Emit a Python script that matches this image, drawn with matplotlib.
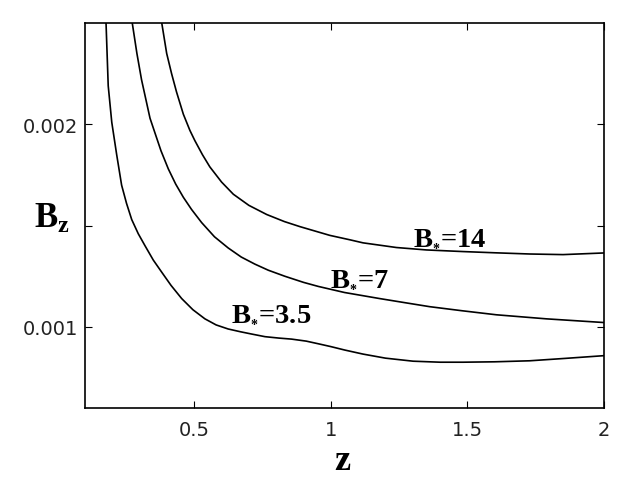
import matplotlib
matplotlib.use("Agg")
import matplotlib.pyplot as plt

plt.rcParams['mathtext.fontset'] = 'custom'
plt.rcParams['mathtext.rm'] = 'Liberation Serif:bold'
plt.rcParams['mathtext.bf'] = 'Liberation Serif:bold'
plt.rcParams['mathtext.it'] = 'Liberation Serif:bold'

# Curve B*=3.5
z_35 = [0.175, 0.177, 0.185, 0.198, 0.216, 0.234, 0.252, 0.271, 0.295, 0.32, 0.35, 0.381, 0.415, 0.454,
        0.495, 0.539, 0.58, 0.624, 0.67, 0.71, 0.759, 0.81, 0.856, 0.91, 0.954, 1.0, 1.051, 1.118, 1.2,
        1.301, 1.4, 1.484, 1.6, 1.728, 1.86, 1.997]
b_35 = [0.0026, 0.0025, 0.00219, 0.00201, 0.00185, 0.0017, 0.00161, 0.00153, 0.00146, 0.0014, 0.00133, 0.00127,
        0.001205, 0.00114, 0.001085, 0.00104, 0.00101, 0.00099, 0.000976, 0.000965, 0.000952, 0.000945,
        0.00094, 0.00093, 0.000917, 0.000903, 0.000886, 0.000866, 0.000846, 0.000831, 0.000826, 0.000826,
        0.000828, 0.000833, 0.000845, 0.000858]

# Curve B*=7
z_7 = [0.271, 0.273, 0.29, 0.307, 0.338, 0.378, 0.405, 0.432, 0.46, 0.49, 0.527, 0.574, 0.624, 0.672, 0.722,
       0.771, 0.832, 0.9, 0.954, 1.05, 1.179, 1.27, 1.362, 1.48, 1.606, 1.789, 1.997]
b_7 = [0.0026, 0.0025, 0.00235, 0.00222, 0.00203, 0.00187, 0.00178, 0.001705, 0.00164, 0.00158, 0.001515,
       0.001445, 0.00139, 0.001345, 0.00131, 0.00128, 0.00125, 0.00122, 0.0012, 0.00117, 0.00114, 0.00112,
       0.0011, 0.00108, 0.00106, 0.00104, 0.001022]

# Curve B*=14
z_14 = [0.379, 0.381, 0.399, 0.417, 0.435, 0.46, 0.484, 0.502, 0.53, 0.557, 0.6, 0.643, 0.7, 0.765, 0.83,
        0.887, 0.996, 1.07, 1.118, 1.24, 1.35, 1.484, 1.6, 1.728, 1.85, 1.997]
b_14 = [0.0026, 0.0025, 0.00235, 0.00225, 0.00216, 0.00205, 0.00197, 0.00192, 0.00185, 0.00179, 0.001715,
        0.001655, 0.0016, 0.001555, 0.00152, 0.001495, 0.001452, 0.00143, 0.001415, 0.001392, 0.00138,
        0.001372, 0.001366, 0.00136, 0.001357, 0.001365]

series = [(z_35, b_35), (z_7, b_7), (z_14, b_14)]
labels = [r'$\mathbf{B}_{_{*}}$=3.5', r'$\mathbf{B}_{_{*}}$=7', r'$\mathbf{B}_{_{*}}$=14']
label_pos = [(0.633, 0.00104), (0.996, 0.001215), (1.301, 0.001418)]

xticks = [0.5, 1, 1.5, 2]
xticklabels = ['0.5', '1', '1.5', '2']
yticks = [0.001, 0.0015, 0.002]
yticklabels = ['0.001', '', '0.002']

fig = plt.figure(figsize=(6.23, 4.85), dpi=100)
ax = fig.add_axes([85/623, 1-409/485, (604-85)/623, (409-24)/485])

for (zs, bs) in series:
    ax.plot(zs, bs, color='black', lw=1.2)

for lab, (x, y) in zip(labels, label_pos):
    ax.text(x, y, lab, fontsize=20.5, color='black', ha='left', va='baseline',
            family='Liberation Serif', weight='bold')

ax.set_xlim(0.1, 2.0)
ax.set_ylim(0.0006, 0.0025)
ax.set_xticks(xticks)
ax.set_xticklabels(xticklabels)
ax.set_yticks(yticks)
ax.set_yticklabels(yticklabels)
ax.tick_params(direction='in', top=True, right=True, length=5, width=0.8,
               labelsize=14, colors='black', labelcolor='#222222')
ax.tick_params(axis='x', pad=9)
ax.tick_params(axis='y', pad=5)
for s in ax.spines.values():
    s.set_linewidth(1.2)

ax.text(0.497, -0.132, r'$\mathbf{z}$', fontsize=26, transform=ax.transAxes,
        ha='center', va='center')
ax.text(-0.064, 0.495, r'$\mathbf{B_z}$', fontsize=25, transform=ax.transAxes,
        ha='center', va='center')

fig.savefig('out.png', dpi=100)
